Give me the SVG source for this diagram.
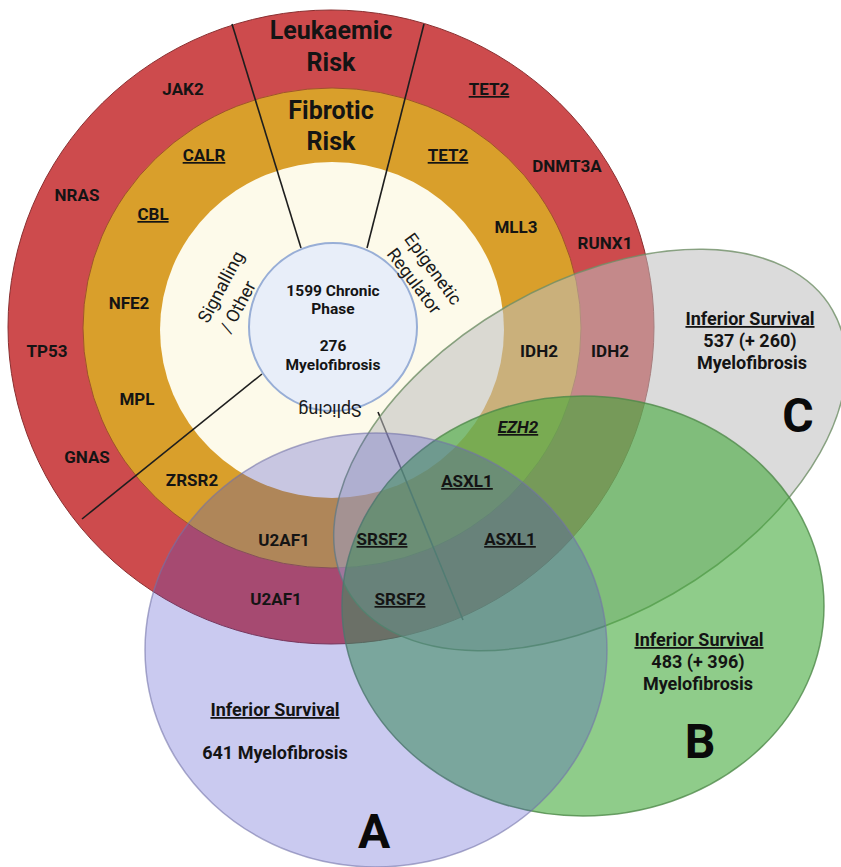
<svg xmlns="http://www.w3.org/2000/svg" width="841" height="867" viewBox="0 0 841 867">
<style>
.g{font-family:Roboto,"Liberation Sans",sans-serif;font-weight:700;font-size:17px;fill:#141414;text-anchor:middle}
.u{text-decoration:underline}
.i{font-style:italic}
.t{font-family:Roboto,"Liberation Sans",sans-serif;font-weight:700;font-size:25px;fill:#141414;text-anchor:middle}
.c{font-family:Roboto,"Liberation Sans",sans-serif;font-weight:700;font-size:15.5px;fill:#141414;text-anchor:middle}
.r{font-family:Roboto,"Liberation Sans",sans-serif;font-weight:400;font-size:18px;fill:#1a1a1a;text-anchor:middle}
.s{font-family:Roboto,"Liberation Sans",sans-serif;font-weight:700;font-size:18px;fill:#141414;text-anchor:middle}
.big{font-family:Roboto,"Liberation Sans",sans-serif;font-weight:700;font-size:48px;fill:#0a0a0a;text-anchor:middle}
.div{stroke:#1e1e1e;stroke-width:1.6;fill:none}
</style>
<rect width="841" height="867" fill="#ffffff"/>
<g id="leukaemic-ring"><ellipse cx="331" cy="327" rx="323" ry="317" fill="#cd4b4d" stroke="#8a2f30" stroke-width="1"/></g>
<g id="fibrotic-ring"><ellipse cx="332" cy="328" rx="249" ry="240" fill="#d99f2b" stroke="#a0522d" stroke-width="1"/></g>
<g id="inner-ring"><ellipse cx="332" cy="330" rx="172" ry="168" fill="#fdfaea"/></g>
<g id="connectors">
<line class="div" x1="301" y1="248" x2="232" y2="24"/>
<line class="div" x1="367" y1="248" x2="424" y2="24"/>
<line class="div" x1="262" y1="374" x2="82" y2="519"/>
<line class="div" x1="378" y1="412" x2="463" y2="620"/>
</g>
<g id="centre"><circle cx="333" cy="327" r="84" fill="#e8eef9" stroke="#98aed6" stroke-width="2"/>
<text class="c" x="333" y="296">1599 Chronic</text>
<text class="c" x="333" y="314">Phase</text>
<text class="c" x="333" y="351">276</text>
<text class="c" x="333" y="370">Myelofibrosis</text>
</g>
<g id="set-C"><ellipse cx="590" cy="450" rx="280" ry="166" transform="rotate(-30 590 450)" fill="#bdbdbd" fill-opacity="0.55" stroke="#6f8f66" stroke-opacity="0.8" stroke-width="1.5"/></g>
<g id="set-B"><ellipse cx="583" cy="606" rx="241" ry="210" fill="rgb(62,167,53)" fill-opacity="0.58" stroke="#4f8a4a" stroke-opacity="0.8" stroke-width="1.5"/></g>
<g id="set-A"><ellipse cx="376" cy="650" rx="231" ry="217" fill="rgb(72,72,204)" fill-opacity="0.29" stroke="#7373a8" stroke-opacity="0.6" stroke-width="1.5"/></g>
<g id="titles">
<text class="t" x="331" y="39">Leukaemic</text>
<text class="t" x="331" y="71">Risk</text>
<text class="t" x="331" y="119">Fibrotic</text>
<text class="t" x="331" y="150">Risk</text>
</g>
<g id="category-labels">
<text class="r" transform="translate(221,287) rotate(-62)" y="6">Signalling</text>
<text class="r" transform="translate(238,307) rotate(-62)" y="6">/ Other</text>
<text class="r" transform="translate(433,269) rotate(54)" y="6">Epigenetic</text>
<text class="r" transform="translate(414,281) rotate(53)" y="6">Regulator</text>
<text class="r" transform="translate(330,410) rotate(180)" y="6">Splicing</text>
</g>
<g id="genes">
<text class="g" x="183" y="95">JAK2</text>
<text class="g u" x="489" y="95">TET2</text>
<text class="g u" x="448" y="161">TET2</text>
<text class="g u" x="204" y="161">CALR</text>
<text class="g" x="567" y="172">DNMT3A</text>
<text class="g" x="77" y="201">NRAS</text>
<text class="g u" x="153" y="220">CBL</text>
<text class="g" x="516" y="233">MLL3</text>
<text class="g" x="605" y="249">RUNX1</text>
<text class="g" x="129" y="309">NFE2</text>
<text class="g" x="47" y="357">TP53</text>
<text class="g" x="539" y="357">IDH2</text>
<text class="g" x="610" y="357">IDH2</text>
<text class="g" x="137" y="405">MPL</text>
<text class="g u i" x="518" y="433">EZH2</text>
<text class="g" x="87" y="463">GNAS</text>
<text class="g" x="192" y="486">ZRSR2</text>
<text class="g u" x="467" y="487">ASXL1</text>
<text class="g" x="284" y="546">U2AF1</text>
<text class="g u" x="382" y="545">SRSF2</text>
<text class="g u" x="510" y="545">ASXL1</text>
<text class="g" x="276" y="605">U2AF1</text>
<text class="g u" x="400" y="605">SRSF2</text>
</g>
<g id="label-C">
<text class="s u" x="750" y="325">Inferior Survival</text>
<text class="s" x="750" y="347">537 (+ 260)</text>
<text class="s" x="752" y="369">Myelofibrosis</text>
<text class="big" x="798" y="432">C</text>
</g>
<g id="label-B">
<text class="s u" x="699" y="646">Inferior Survival</text>
<text class="s" x="698" y="668">483 (+ 396)</text>
<text class="s" x="698" y="690">Myelofibrosis</text>
<text class="big" x="700" y="758">B</text>
</g>
<g id="label-A">
<text class="s u" x="275" y="716">Inferior Survival</text>
<text class="s" x="275" y="759">641 Myelofibrosis</text>
<text class="big" x="374" y="848">A</text>
</g>
</svg>
